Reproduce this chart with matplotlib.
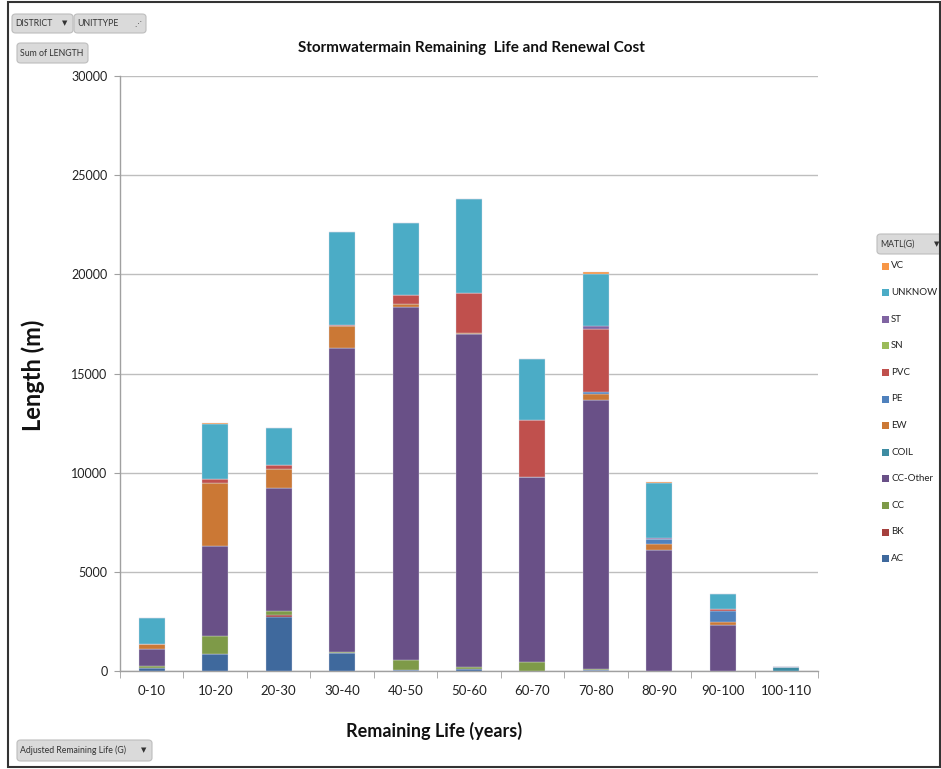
import matplotlib
matplotlib.use("Agg")
import matplotlib.pyplot as plt
from matplotlib.patches import Rectangle, FancyBboxPatch
import numpy as np

plt.rcParams['font.family'] = ['Lato', 'DejaVu Sans']

# Remaining-life bands (years)
bands = ["0-10", "10-20", "20-30", "30-40", "40-50", "50-60",
         "60-70", "70-80", "80-90", "90-100", "100-110"]

# Sum of pipe length (m) per material, one value per band
AC       = [135, 857, 2738, 890, 50, 118, 0, 50, 0, 0, 0]
BK       = [0, 0, 84, 0, 0, 0, 0, 0, 0, 0, 0]
CC       = [135, 907, 218, 67, 504, 100, 470, 67, 0, 0, 0]
CC_Other = [823, 4536, 6199, 15337, 17808, 16750, 9324, 13541, 6115, 2318, 0]
COIL     = [0, 0, 0, 0, 0, 0, 0, 0, 0, 0, 185]
EW       = [250, 3190, 941, 1092, 151, 50, 0, 302, 286, 151, 0]
PE       = [0, 0, 0, 0, 0, 0, 0, 118, 235, 538, 0]
PVC      = [0, 185, 218, 67, 470, 2066, 2873, 3175, 0, 134, 0]
SN       = [0, 0, 0, 0, 0, 0, 0, 0, 0, 0, 0]
ST       = [0, 0, 0, 0, 0, 0, 0, 134, 67, 0, 0]
UNKNOW   = [1310, 2757, 1865, 4687, 3629, 4704, 3040, 2654, 2755, 739, 0]
VC       = [0, 50, 0, 0, 0, 0, 0, 67, 67, 0, 0]

materials = ["AC", "BK", "CC", "CC-Other", "COIL", "EW", "PE", "PVC", "SN", "ST", "UNKNOW", "VC"]
series = [AC, BK, CC, CC_Other, COIL, EW, PE, PVC, SN, ST, UNKNOW, VC]
colors = ["#3F699D", "#A5403D", "#7E9A48", "#695087", "#3D8CA2", "#CB7835",
          "#4F81BD", "#C0504D", "#9BBB59", "#8064A2", "#4BACC6", "#F79646"]

W, H = 941, 769
fig = plt.figure(figsize=(W / 100, H / 100), dpi=100)
fig.patch.set_facecolor("white")

def fx(px):
    return px / W

def fy(py):
    return 1 - py / H

ax = fig.add_axes([fx(120), fy(671), fx(818) - fx(120), fy(76) - fy(671)])

x = np.arange(len(bands))
bottom = np.zeros(len(bands))
for name, vals, c in zip(materials, series, colors):
    v = np.array(vals, dtype=float)
    ax.bar(x, v, width=0.41, bottom=bottom, color=c, edgecolor="#DCDCE8",
           linewidth=0.25, zorder=3, label=name)
    bottom += v

ax.set_xlim(-0.5, len(bands) - 0.5)
ax.set_ylim(0, 30000)
ax.set_yticks(np.arange(0, 30001, 5000))
ax.set_xticks(x)
ax.set_xticklabels(bands)
ax.set_xticks(np.arange(-0.5, len(bands), 1.0), minor=True)
ax.tick_params(axis="x", which="major", length=0, pad=10, labelsize=9.5, colors="#222222")
ax.tick_params(axis="x", which="minor", length=5, direction="out", color="#A0A0A0")
ax.tick_params(axis="y", length=4, direction="out", color="#A0A0A0", labelsize=9,
               colors="#222222", pad=5)
ax.grid(axis="y", color="#BEBEBE", linewidth=1.0, zorder=0)
for side in ["top", "right"]:
    ax.spines[side].set_visible(False)
for side in ["left", "bottom"]:
    ax.spines[side].set_color("#A0A0A0")
    ax.spines[side].set_linewidth(1.0)

# Titles and axis labels
fig.text(fx(471), fy(48), "Stormwatermain Remaining  Life and Renewal Cost",
         ha="center", va="center", fontsize=11, fontweight="bold", color="#111111")
fig.text(fx(33), fy(375), "Length (m)", rotation=90, ha="center", va="center",
         fontsize=17, fontweight="bold", color="#111111")
fig.text(fx(434), fy(731), "Remaining Life (years)", ha="center", va="center",
         fontsize=13, fontweight="bold", color="#111111")

# Pivot field buttons
def button(x0, y0, x1, y1, text, arrow=None):
    p = FancyBboxPatch((fx(x0), fy(y1)), fx(x1) - fx(x0), fy(y0) - fy(y1),
                       boxstyle="round,pad=0,rounding_size=0.004",
                       transform=fig.transFigure, facecolor="#DADADA",
                       edgecolor="#BDBDBD", linewidth=0.8)
    fig.patches.append(p)
    fig.text(fx(x0 + 3), fy((y0 + y1) / 2), text, ha="left", va="center",
             fontsize=6.3, color="#333333")
    if arrow:
        fig.text(fx(x1 - 8), fy((y0 + y1) / 2), arrow, ha="center", va="center",
                 fontsize=5, color="#333333", family="DejaVu Sans")

button(12, 14, 73, 33, "DISTRICT", "▼")
button(74, 14, 146, 33, "UNITTYPE", "⋰")
button(17, 43, 88, 63, "Sum of LENGTH")
button(17, 740, 152, 761, "Adjusted Remaining Life (G)", "▼")
button(877, 234, 945, 254, "MATL(G)", "▼")

# Legend (top entry is the last series in the stack)
legend_y0, legend_dy = 266, 26.6
for i, (name, c) in enumerate(zip(materials[::-1], colors[::-1])):
    yy = legend_y0 + i * legend_dy
    fig.patches.append(Rectangle((fx(882), fy(yy + 3.5)), fx(7), fy(0) - fy(7),
                                 transform=fig.transFigure, facecolor=c,
                                 edgecolor="none"))
    fig.text(fx(891), fy(yy), name, ha="left", va="center", fontsize=7,
             color="#222222")

# Outer chart frame
fig.patches.append(Rectangle((fx(8), fy(767)), fx(940) - fx(8), fy(2) - fy(767),
                             transform=fig.transFigure, facecolor="none",
                             edgecolor="#333333", linewidth=1.5))

fig.savefig("out.png", dpi=100, facecolor="white")
